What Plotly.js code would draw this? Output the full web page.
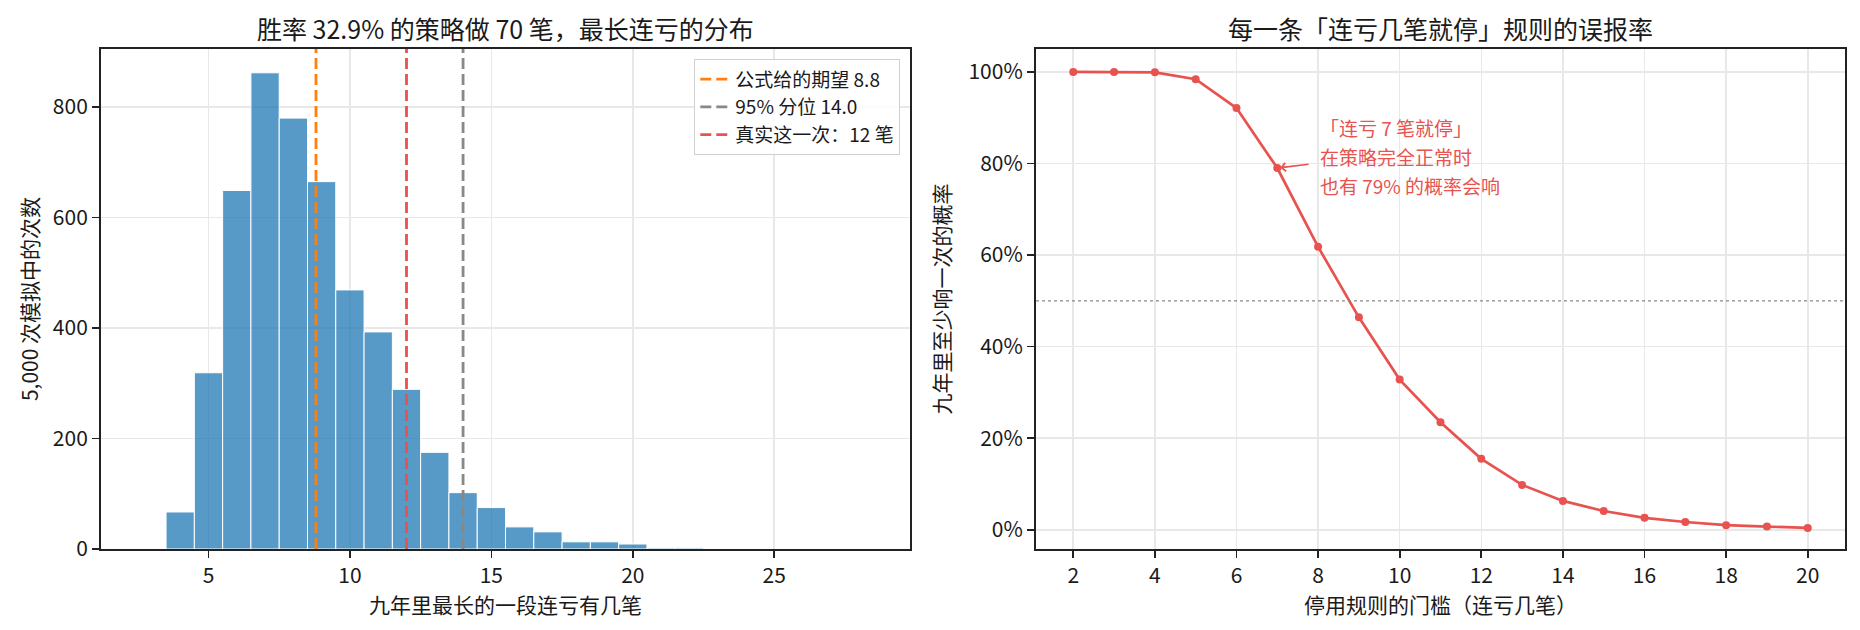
<!DOCTYPE html>
<html>
<head>
<meta charset="utf-8">
<script src="https://cdn.plot.ly/plotly-3.0.1.min.js"></script>
<style>
  html, body { margin: 0; padding: 0; background: #fff; }
  #chart { width: 1860px; height: 630px; }
</style>
</head>
<body>
<div id="chart"></div>
<script>
// 左图：5,000 次模拟里，九年最长连亏的分布（每格 1 笔）
var streakLen = [4, 5, 6, 7, 8, 9, 10, 11, 12, 13, 14, 15, 16, 17, 18, 19, 20, 21, 22];
var simCount  = [67, 319, 649, 862, 780, 665, 469, 393, 289, 175, 102, 75, 40, 31, 13, 13, 9, 2, 2];

// 三条参考线
var refNames  = ['公式给的期望 8.8', '95% 分位 14.0', '真实这一次：12 笔'];
var refValues = [8.8, 14.0, 12];

// 右图：每个「连亏几笔就停」门槛，九年里至少响一次的概率（%）
var stopRule   = [2, 3, 4, 5, 6, 7, 8, 9, 10, 11, 12, 13, 14, 15, 16, 17, 18, 19, 20];
var falseAlarm = [100, 100, 99.9, 98.4, 92.1, 79.0, 61.8, 46.4, 32.8, 23.5, 15.5, 9.8, 6.3, 4.1, 2.6, 1.7, 1.0, 0.7, 0.4];
var halfLine = 50;

var noteLines = ['「连亏 7 笔就停」', '在策略完全正常时', '也有 79% 的概率会响'];

var RED = '#e8524f';
var refColors = ['#ff7f0e', '#888888', RED];
var FONT = '"Noto Sans CJK SC", "Noto Sans", sans-serif';
var INK = '#1a1a1a';

var countTop = Math.max.apply(null, simCount) * 1.05;

var traces = [{
  type: 'bar',
  x: streakLen,
  y: simCount,
  width: 1,
  marker: { color: 'rgba(31,119,180,0.75)', line: { color: '#ffffff', width: 1 } },
  showlegend: false,
  xaxis: 'x', yaxis: 'y'
}];

for (var i = 0; i < refValues.length; i++) {
  traces.push({
    type: 'scatter',
    mode: 'lines',
    name: refNames[i],
    x: [refValues[i], refValues[i]],
    y: [0, countTop],
    line: { color: refColors[i], width: 2.8, dash: '11px,5px' },
    xaxis: 'x', yaxis: 'y'
  });
}

traces.push({
  type: 'scatter',
  mode: 'lines+markers',
  x: stopRule,
  y: falseAlarm,
  line: { color: RED, width: 2.7 },
  marker: { color: RED, size: 8 },
  showlegend: false,
  xaxis: 'x2', yaxis: 'y2'
});

function axis(extra) {
  var a = {
    showline: true, mirror: true, linecolor: '#222', linewidth: 2,
    ticks: 'outside', ticklen: 7, tickwidth: 1.7, tickcolor: '#222',
    showgrid: true, gridcolor: '#e8e8e8', gridwidth: 1.6,
    zeroline: false,
    tickfont: { family: FONT, size: 21, color: INK }
  };
  for (var k in extra) a[k] = extra[k];
  return a;
}

function axTitle(text, standoff) {
  return { text: text, standoff: standoff, font: { family: FONT, size: 21, color: INK } };
}

var annotations = [
  { text: '胜率 32.9% 的策略做 70 笔，最长连亏的分布', xref: 'paper', yref: 'paper',
    x: 0.23185, y: 1.042, xanchor: 'center', yanchor: 'middle', showarrow: false,
    font: { family: FONT, size: 25, color: INK } },
  { text: '每一条「连亏几笔就停」规则的误报率', xref: 'paper', yref: 'paper',
    x: 0.76806, y: 1.042, xanchor: 'center', yanchor: 'middle', showarrow: false,
    font: { family: FONT, size: 25, color: INK } },
  { text: ' ', xref: 'x2', yref: 'y2', x: stopRule[5], y: falseAlarm[5],
    axref: 'x2', ayref: 'y2', ax: 7.84, ay: 79.9,
    showarrow: true, arrowhead: 4, arrowsize: 1, arrowwidth: 1.6, arrowcolor: RED, standoff: 3 }
];
var noteY = [87.9, 81.5, 75.2];
for (var j = 0; j < noteLines.length; j++) {
  annotations.push({
    text: noteLines[j], xref: 'x2', yref: 'y2', x: 8.0, y: noteY[j],
    xanchor: 'left', yanchor: 'middle', showarrow: false,
    font: { family: FONT, size: 19, color: RED }
  });
}

var layout = {
  width: 1860, height: 630,
  margin: { l: 101, r: 15, t: 49, b: 81 },
  paper_bgcolor: '#ffffff', plot_bgcolor: '#ffffff',
  font: { family: FONT, color: INK },
  showlegend: true,
  legend: {
    x: 0.45814, y: 0.98, xanchor: 'right', yanchor: 'top',
    bgcolor: 'rgba(255,255,255,0.85)', bordercolor: '#d0d0d0', borderwidth: 1.3,
    font: { family: FONT, size: 19, color: INK }
  },
  xaxis: axis({ domain: [0, 0.46388], range: [1.2, 29.8], tick0: 0, dtick: 5,
    title: axTitle('九年里最长的一段连亏有几笔', 10), anchor: 'y' }),
  yaxis: axis({ domain: [0, 1], range: [0, countTop], tick0: 0, dtick: 200,
    title: axTitle('5,000 次模拟中的次数', 8), anchor: 'x' }),
  xaxis2: axis({ domain: [0.53612, 1], range: [1.087, 20.913], tick0: 0, dtick: 2,
    title: axTitle('停用规则的门槛（连亏几笔）', 10), anchor: 'y2' }),
  yaxis2: axis({ domain: [0, 1], range: [-4.2, 105], tick0: 0, dtick: 20, ticksuffix: '%',
    title: axTitle('九年里至少响一次的概率', 12), anchor: 'x2' }),
  shapes: [{
    type: 'line', xref: 'x2 domain', yref: 'y2', x0: 0, x1: 1, y0: halfLine, y1: halfLine,
    line: { color: '#888888', width: 1.4, dash: 'dot' }
  }],
  annotations: annotations
};

Plotly.newPlot('chart', traces, layout, { displayModeBar: false, staticPlot: true });
</script>
</body>
</html>
